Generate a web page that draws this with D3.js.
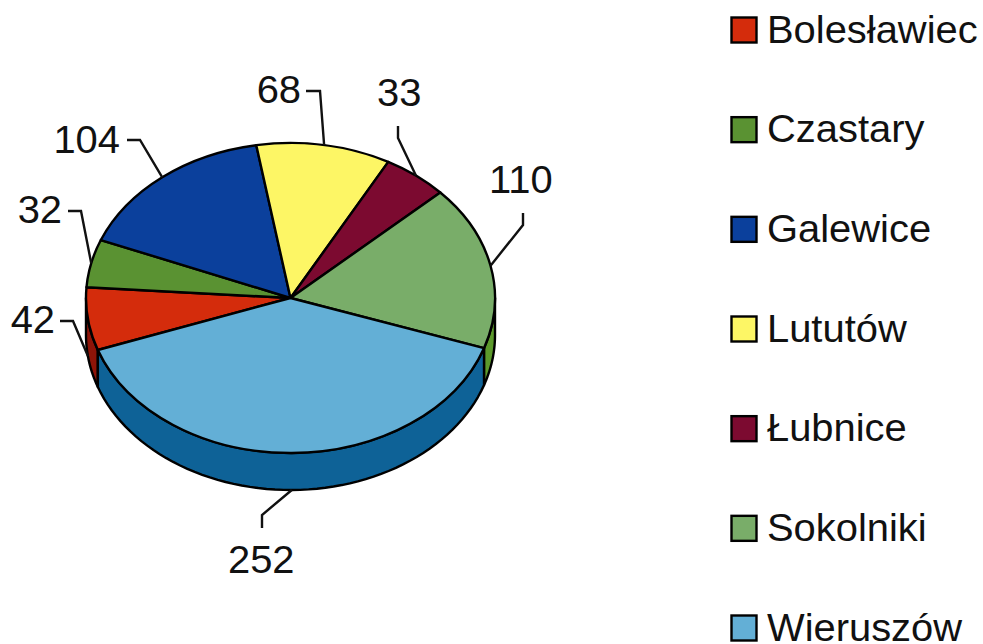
<!DOCTYPE html>
<html>
<head>
<meta charset="utf-8">
<script src="https://cdn.jsdelivr.net/npm/d3@7"></script>
<style>
  html, body { margin: 0; padding: 0; background: #fff; }
  text { font-family: "Liberation Sans", Arial, sans-serif; fill: #111; font-size: 38px; }
</style>
</head>
<body>
<div id="chart"></div>
<script>
// Data
var categories = ["Bolesławiec", "Czastary", "Galewice", "Lututów", "Łubnice", "Sokolniki", "Wieruszów"];
var values = [42, 32, 104, 68, 33, 110, 252];
var topColors = ["#d42c0c", "#5a9232", "#0b409c", "#fdf665", "#7c0a30", "#79ad69", "#63afd6"];
var sideColors = ["#8e1408", "#3f7a1e", "#082c6c", "#b0aa40", "#560620", "#5c9a2c", "#0e6297"];

// Label placement: text anchor, then the elbow of the leader line
var labelX = [55, 62, 120, 301, 377, 489, 228];
var labelY = [333, 223, 153, 103, 106, 193, 573];
var labelAnchor = ["end", "end", "end", "end", "start", "start", "start"];
var leaderStart = [[60, 321], [68, 211], [127, 140], [306, 91], [398, 126], [523, 213], [262, 528]];
var leaderElbow = [[73, 321], [81, 211], [140, 140], [320, 91], [398, 138], [523, 225], [262, 515]];

var svgWidth = 983;
var svgHeight = 644;

var cx = 290.5, cy = 298, rx = 204.5, ry = 155, depth = 37;
var startDeg = 250.4;
var textStretch = 1.05; // the scan is a little wider than it is tall
var edge = 2.4;

var svg = d3.select("#chart")
    .append("svg")
    .attr("width", svgWidth)
    .attr("height", svgHeight)
    .style("display", "block");

var rows = categories.map(function(c, i) {
    return { name: c, value: values[i], top: topColors[i], side: sideColors[i], i: i };
});

var pie = d3.pie()
    .sort(null)
    .value(d => d.value)
    .startAngle(startDeg * Math.PI / 180)
    .endAngle((startDeg + 360) * Math.PI / 180);

var slices = pie(rows);

// point on the rim for a clockwise-from-top angle
function rim(a, drop) {
    return [cx + rx * Math.sin(a), cy - ry * Math.cos(a) + (drop || 0)];
}

var line = d3.line();

// Side wall: only the front half of the ellipse shows (90 to 270 degrees)
function sideParts(s) {
    var parts = [];
    [0, 2 * Math.PI].forEach(function(shift) {
        var a0 = Math.max(s.startAngle - shift, Math.PI / 2);
        var a1 = Math.min(s.endAngle - shift, 3 * Math.PI / 2);
        if (a1 > a0) parts.push([a0, a1]);
    });
    return parts;
}

var sideGroup = svg.append("g");
slices.forEach(function(s) {
    sideParts(s).forEach(function(p) {
        var steps = d3.range(0, 61).map(t => p[0] + (p[1] - p[0]) * t / 60);
        var pts = steps.map(a => rim(a, 0))
            .concat(steps.slice().reverse().map(a => rim(a, depth)));
        sideGroup.append("path")
            .attr("d", line(pts) + "Z")
            .attr("fill", s.data.side)
            .attr("stroke", "#000")
            .attr("stroke-width", edge)
            .attr("stroke-linejoin", "round");
    });
});

// Top faces: a d3 arc squashed to the ellipse
var arc = d3.arc().innerRadius(0).outerRadius(rx);

svg.append("g")
    .attr("transform", `translate(${cx}, ${cy}) scale(1, ${ry / rx})`)
    .selectAll("path")
    .data(slices)
    .enter()
    .append("path")
    .attr("d", arc)
    .attr("fill", d => d.data.top)
    .attr("stroke", "#000")
    .attr("stroke-width", edge)
    .attr("stroke-linejoin", "round")
    .attr("vector-effect", "non-scaling-stroke");

// Leader lines end on the rim at the middle of each slice
slices.forEach(function(s, i) {
    var mid = (s.startAngle + s.endAngle) / 2;
    var norm = mid % (2 * Math.PI);
    var front = norm > Math.PI / 2 && norm < 3 * Math.PI / 2;
    var end = rim(mid, front ? depth : 0);

    svg.append("path")
        .attr("d", line([leaderStart[i], leaderElbow[i], end]))
        .attr("fill", "none")
        .attr("stroke", "#111")
        .attr("stroke-width", edge);

    svg.append("text")
        .attr("transform", `translate(${labelX[i]}, ${labelY[i]}) scale(${textStretch}, 1)`)
        .attr("text-anchor", labelAnchor[i])
        .text(values[i]);
});

// Legend
var legendY = d3.scalePoint()
    .domain(categories)
    .range([30, 628]);

var legend = svg.append("g")
    .selectAll("g")
    .data(rows)
    .enter()
    .append("g")
    .attr("transform", d => `translate(0, ${legendY(d.name)})`);

legend.append("rect")
    .attr("x", 731.5)
    .attr("y", -12.5)
    .attr("width", 25)
    .attr("height", 25)
    .attr("fill", d => d.top)
    .attr("stroke", "#000")
    .attr("stroke-width", edge);

legend.append("text")
    .attr("transform", `translate(767, 12.5) scale(${textStretch}, 1)`)
    .text(d => d.name);
</script>
</body>
</html>
